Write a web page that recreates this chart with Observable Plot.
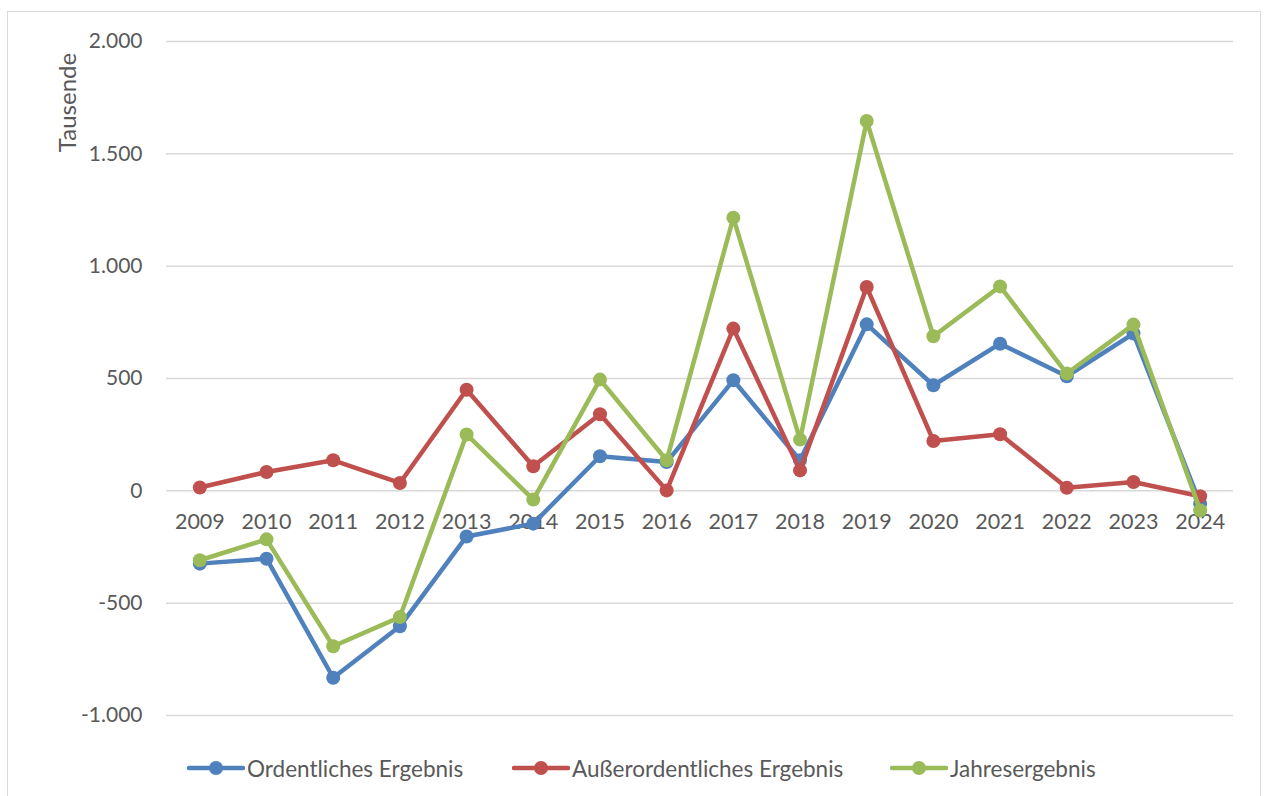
<!DOCTYPE html>
<html>
<head>
<meta charset="utf-8">
<script src="https://cdn.jsdelivr.net/npm/d3@7"></script>
<script src="https://cdn.jsdelivr.net/npm/@observablehq/plot@0.6"></script>
<style>
  html, body { margin: 0; padding: 0; background: #fff; width: 1264px; height: 796px; overflow: hidden; }
  #frame { position: absolute; left: 7px; top: 11px; width: 1254px; height: 800px; border: 1.5px solid #d9d9d9; box-sizing: border-box; }
  #chart { position: absolute; left: 0; top: 0; }
  .leg { position: absolute; top: 755px; height: 26px; display: flex; align-items: center; font-family: Lato, "Open Sans", sans-serif; font-size: 22.5px; color: #595959; white-space: nowrap; }
  .leg svg { margin-right: 2px; }
</style>
</head>
<body>
<div id="frame"></div>
<div id="chart"></div>
<div id="legend"></div>
<script>
const years = ["2009","2010","2011","2012","2013","2014","2015","2016","2017","2018","2019","2020","2021","2022","2023","2024"];
const ordentlich = [-324,-302,-832,-603,-203,-146,154,128,492,136,741,470,655,510,700,-57];
const ausserordentlich = [15,84,136,35,450,109,341,2,722,91,907,222,252,14,39,-24];
const jahres = [-309,-216,-692,-562,251,-39,495,136,1216,228,1646,688,910,522,740,-87];
const seriesNames = ["Ordentliches Ergebnis","Außerordentliches Ergebnis","Jahresergebnis"];
const seriesColors = ["#4f81bd","#c0504d","#9bbb59"];
const yTicks = [-1000,-500,0,500,1000,1500,2000];
const yLabel = "Tausende";

const seriesValues = [ordentlich, ausserordentlich, jahres];
const tables = seriesValues.map((vals, i) => years.map((y, j) => ({year: y, value: vals[j], series: seriesNames[i]})));

const fmt = d3.formatLocale({decimal: ",", thousands: ".", grouping: [3], currency: ["", "€"], minus: "-"}).format(",");

const seriesMarks = tables.flatMap((data, i) => [
  Plot.line(data, {x: "year", y: "value", stroke: seriesColors[i], strokeWidth: 4.5, strokeLinejoin: "round", strokeLinecap: "round"}),
  Plot.dot(data, {x: "year", y: "value", r: 7, fill: seriesColors[i], stroke: "none"})
]);

const chart = Plot.plot({
  width: 1264,
  height: 740,
  marginLeft: 166,
  marginRight: 31,
  marginTop: 41,
  marginBottom: 25,
  style: {fontFamily: "Lato, 'Open Sans', sans-serif", fontSize: "21px", color: "#595959", background: "transparent", overflow: "visible"},
  x: {type: "band", domain: years, padding: 0, round: false, axis: null},
  y: {domain: [-1000, 2000], axis: null},
  marks: [
    Plot.gridY(yTicks, {stroke: "#d9d9d9", strokeOpacity: 1, strokeWidth: 1.5}),
    Plot.axisY(yTicks, {tickSize: 0, tickPadding: 24, tickFormat: fmt, fontSize: 21, fill: "#595959", label: null}),
    Plot.text(years, {x: d => d, y: () => 0, dy: 31, text: d => d, fontSize: 21.5, fill: "#595959"}),
    Plot.text([yLabel], {frameAnchor: "top-left", dx: -108, dy: 61, rotate: -90, text: d => d, fontSize: 24, fill: "#595959", textAnchor: "middle"}),
    ...seriesMarks
  ]
});
document.getElementById("chart").appendChild(chart);

const legendLefts = [187, 512, 890];
const legend = document.getElementById("legend");
seriesNames.forEach((name, i) => {
  const item = document.createElement("div");
  item.className = "leg";
  item.style.left = legendLefts[i] + "px";
  item.innerHTML = `<svg width="58" height="20"><line x1="2" x2="56" y1="10" y2="10" stroke="${seriesColors[i]}" stroke-width="4.5" stroke-linecap="round"/><circle cx="29" cy="10" r="7" fill="${seriesColors[i]}"/></svg><span>${name}</span>`;
  legend.appendChild(item);
});
</script>
</body>
</html>
